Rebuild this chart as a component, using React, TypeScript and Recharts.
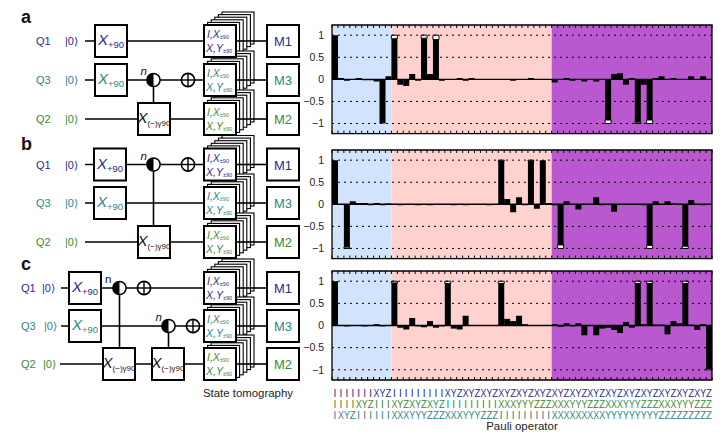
import { BarChart, Bar, XAxis, YAxis, ReferenceArea, ReferenceLine } from 'recharts';

// the three qubit rows under the bottom panel, one character per operator
const row1 = 'IIIIIIIXYZ' + 'IIIIIIIII' + 'XYZXYZXYZ' + 'XYZXYZXYZ' + 'XYZXYZXYZXYZXYZXYZXYZXYZXYZ';
const row2 = 'IIIIXYZIII' + 'XYZXYZXYZ' + 'IIIIIIIII' + 'XXXYYYZZZ' + 'XXXYYYZZZXXXYYYZZZXXXYYYZZZ';
const row3 = 'IXYZIIIIII' + 'XXXYYYZZZ' + 'XXXYYYZZZ' + 'IIIIIIIII' + 'XXXXXXXXXYYYYYYYYYZZZZZZZZZ';

const measuredA = [
  1, 0.03, -0.03, 0, 0.03, -0.02, -0.02, -0.05, -1, 0.07,
  0.92, -0.12, -0.15, 0.12, -0.03, 0.93, 0.12, 0.9, -0.03, 0, 0, 0.03, -0.03, 0.03, 0, 0, 0,
  0, 0, 0, -0.03, 0, 0, 0.03, 0, 0, 0,
  -0.07, 0, 0.03, -0.03, 0, -0.05, 0, -0.05, 0, -0.92, 0.12, 0.14, -0.12, 0.03, -0.97, -0.12,
  -0.92, 0.03, 0.07, 0, 0.03, 0, 0, 0.07, 0, 0.07, 0,
];
const idealA: Record<number, number> = { 0: 1, 8: -1, 10: 1, 15: 1, 17: 1, 46: -1, 51: -1, 53: -1 };

const measuredB = [
  1, 0, -0.97, 0.07, 0.03, 0.03, -0.02, 0.03, -0.02, 0.02,
  0, -0.02, 0, 0, -0.02, 0, -0.02, 0, 0, 0, -0.02, 0, -0.02, 0, 0, 0, -0.02,
  0, 0.98, 0.12, -0.18, 0.16, -0.02, 0.98, -0.1, 1, 0.03,
  -0.02, -0.92, 0.07, 0, -0.12, -0.01, 0, 0.16, -0.02, 0, -0.17, 0, 0, 0, 0, -0.02,
  -0.93, 0.07, 0, 0.07, 0.02, 0, -0.95, 0.1, 0, -0.02, 0,
];
const idealB: Record<number, number> = { 0: 1, 2: -1, 28: 1, 33: 1, 35: 1, 38: -1, 53: -1, 59: -1 };

const measuredC = [
  1, 0, -0.02, 0, 0, -0.02, 0, 0.03, -0.02, 0,
  0.96, -0.05, -0.09, 0.17, -0.02, -0.04, 0.1, -0.05, -0.02, 0.95, -0.07, -0.09, 0.22, 0, -0.01, -0.01, -0.01,
  -0.01, 0.95, 0.15, 0.1, 0.22, 0.03, -0.01, -0.01, -0.01, -0.01,
  0.03, -0.03, 0.05, -0.02, 0.05, -0.22, -0.01, -0.22, -0.07, -0.05, -0.1, -0.17, 0.08, -0.05, 0.95, 0.03,
  0.95, 0.02, 0.02, -0.2, 0.1, 0.05, 0.95, 0.02, -0.1, 0.03, -0.97,
];
const idealC: Record<number, number> = { 0: 1, 10: 1, 19: 1, 28: 1, 51: 1, 53: 1, 59: 1, 63: -1 };

const yTicks = [-1, -0.5, 0, 0.5, 1];
const boundaries = Array.from({ length: 65 }, (_, i) => i);
const regions = [
  { from: 0, to: 10, fill: '#D2E3FE' },
  { from: 10, to: 37, fill: '#FFD2D0' },
  { from: 37, to: 64, fill: '#B958CF' },
];

const NAVY = '#2B2C86';
const TEAL = '#2F8585';
const GREEN = '#3C8A35';
const FONT = '"Liberation Sans", Arial, sans-serif';

const buildData = (measured: number[], ideal: Record<number, number>) =>
  measured.map((value, i) => ({
    op: row1[i] + row2[i] + row3[i],
    edge: i,
    measured: value,
    gap: ideal[i] ? ideal[i] - value : 0,
  }));

// X, Y and Z are squeezed into one bar width, I keeps its own width
function OperatorChar({ x, y, c, fill }: any) {
  const squeeze = c === 'I' ? {} : { textLength: 5.9, lengthAdjust: 'spacingAndGlyphs' };
  return <text x={x} y={y} fill={fill} {...squeeze}>{c}</text>;
}

function OperatorTick({ x, y, payload }: any) {
  const chars = String(payload.value);
  return (
    <g fontFamily={FONT} fontSize={10} textAnchor="middle">
      <OperatorChar x={x} y={y + 9} c={chars[0]} fill={NAVY} />
      <OperatorChar x={x} y={y + 20} c={chars[1]} fill={GREEN} />
      <OperatorChar x={x} y={y + 31} c={chars[2]} fill={TEAL} />
    </g>
  );
}

const NoLabel = () => <g />;

function PauliPanel({ top, plotHeight, data, labelled }: any) {
  const axisHeight = labelled ? 50 : 0;
  return (
    <div style={{ position: 'absolute', left: 290, top: top - 5 }}>
      <BarChart
        width={430}
        height={plotHeight + 10 + axisHeight}
        data={data}
        margin={{ top: 5, right: 8, left: 0, bottom: 5 }}
        barCategoryGap={0}
      >
        <XAxis
          xAxisId="cat"
          dataKey="op"
          hide={!labelled}
          height={axisHeight}
          interval={0}
          tick={<OperatorTick />}
          tickLine={false}
          axisLine={false}
          label={{ value: 'Pauli operator', position: 'insideBottom', offset: 0, fontFamily: FONT, fontSize: 11.5, fill: '#222' }}
        />
        <XAxis xAxisId="top" dataKey="edge" type="number" orientation="top" mirror height={1} domain={[0, 64]} allowDataOverflow ticks={boundaries} interval={0} tick={<NoLabel />} tickSize={3} tickLine={{ stroke: '#000' }} axisLine={false} />
        <XAxis xAxisId="bot" dataKey="edge" type="number" orientation="bottom" mirror height={1} domain={[0, 64]} allowDataOverflow ticks={boundaries} interval={0} tick={<NoLabel />} tickSize={3} tickLine={{ stroke: '#000' }} axisLine={false} />
        <YAxis
          type="number"
          width={42}
          domain={[-1.23, 1.23]}
          allowDataOverflow
          ticks={yTicks}
          interval={0}
          axisLine={false}
          tickLine={false}
          tickFormatter={(v: number) => String(v).replace('-', '\u2212')}
          tick={{ fontFamily: FONT, fontSize: 10.5, fill: '#222' }}
        />
        {regions.map((r) => (
          <ReferenceArea key={r.from} xAxisId="bot" x1={r.from} x2={r.to} y1={-1.23} y2={1.23} fill={r.fill} fillOpacity={1} stroke="none" />
        ))}
        {[-1, -0.5, 0.5, 1].map((v) => (
          <ReferenceLine key={v} xAxisId="bot" y={v} stroke="#000" strokeWidth={1} strokeDasharray="2 4" />
        ))}
        <Bar xAxisId="cat" stackId="q" dataKey="measured" fill="#000" isAnimationActive={false} />
        <Bar xAxisId="cat" stackId="q" dataKey="gap" fill="#fff" stroke="#000" strokeWidth={1} isAnimationActive={false} />
        <ReferenceLine xAxisId="bot" y={0} stroke="#000" strokeWidth={1.4} />
        <ReferenceArea xAxisId="bot" x1={0} x2={64} y1={-1.23} y2={1.23} fill="none" stroke="#000" strokeWidth={1.3} />
      </BarChart>
    </div>
  );
}

// circuit schematic on the left
const wire = { stroke: '#000', strokeWidth: 1.6, fill: 'none' };

function Wire({ x1, y1, x2, y2 }: any) {
  return <line x1={x1} y1={y1} x2={x2} y2={y2} {...wire} />;
}

function Gate({ x, y, sub, color, subSize = 9.5 }: any) {
  return (
    <g fontFamily={FONT}>
      <rect x={x} y={y - 16} width={32} height={32} fill="#fff" stroke="#000" strokeWidth={2} />
      <text x={x + 16} y={y + 4} textAnchor="middle" fill={color}>
        <tspan fontStyle="italic" fontSize={15}>X</tspan>
        <tspan fontSize={subSize} dy={3}>{sub}</tspan>
      </text>
    </g>
  );
}

function StackBack({ y }: any) {
  return (
    <g>
      {[5, 4, 3, 2, 1].map((k) => (
        <rect key={k} x={204 + k * 3.6} y={y - 16 - k * 2.6} width={32} height={32} fill="#fff" stroke="#000" strokeWidth={1.1} />
      ))}
    </g>
  );
}

function StackFront({ y, color }: any) {
  return (
    <g fontFamily={FONT}>
      <rect x={204} y={y - 16} width={32} height={32} fill="#fff" stroke="#000" strokeWidth={2} />
      <text x={207} y={y - 3} fill={color} fontStyle="italic" fontSize={10.5}>
        I,X<tspan fontSize={5.5} dy={1} fontStyle="normal">±90</tspan>
      </text>
      <text x={206} y={y + 11} fill={color} fontStyle="italic" fontSize={10.5}>
        X,Y<tspan fontSize={5.5} dy={1} fontStyle="normal">±90</tspan>
      </text>
    </g>
  );
}

function Measure({ y, label, color }: any) {
  return (
    <g fontFamily={FONT}>
      <line x1={236} y1={y} x2={267} y2={y} {...wire} />
      <rect x={267} y={y - 16} width={32} height={32} fill="#fff" stroke="#000" strokeWidth={2} />
      <text x={283} y={y + 5} textAnchor="middle" fontSize={13} fill={color}>{label}</text>
    </g>
  );
}

function Control({ x, y, n, nItalic = true, nx }: any) {
  return (
    <g>
      <circle cx={x} cy={y} r={6.6} fill="#fff" stroke="#000" strokeWidth={1.5} />
      <path d={`M ${x} ${y - 6.6} A 6.6 6.6 0 0 0 ${x} ${y + 6.6} Z`} fill="#000" />
      <text x={nx ?? x - 13} y={y - 5} fontFamily={FONT} fontSize={11.5} fontStyle={nItalic ? 'italic' : 'normal'} fill="#111">{n}</text>
    </g>
  );
}

function Target({ x, y }: any) {
  return (
    <g>
      <circle cx={x} cy={y} r={6.6} fill="#fff" stroke="#000" strokeWidth={1.6} />
      <line x1={x - 6.6} y1={y} x2={x + 6.6} y2={y} stroke="#000" strokeWidth={1.4} />
      <line x1={x} y1={y - 6.6} x2={x} y2={y + 6.6} stroke="#000" strokeWidth={1.4} />
    </g>
  );
}

function RowLabel({ y, q, color, qx = 36, kx = 65 }: any) {
  return (
    <g fontFamily={FONT} fontSize={11} fill={color}>
      <text x={qx} y={y + 4}>{q}</text>
      <text x={kx} y={y + 4}>|0⟩</text>
    </g>
  );
}

function Letter({ y, children }: any) {
  return <text x={21} y={y} fontFamily={FONT} fontWeight="bold" fontSize={18} fill="#111">{children}</text>;
}

// the stacks and read-out boxes are the same in every panel
function Tomography({ rows }: any) {
  const colors = [NAVY, TEAL, GREEN];
  const labels = ['M1', 'M3', 'M2'];
  return (
    <g>
      {rows.map((y: number) => <StackBack key={y} y={y} />)}
      {rows.map((y: number, i: number) => <StackFront key={y} y={y} color={colors[i]} />)}
      {rows.map((y: number, i: number) => <Measure key={y} y={y} label={labels[i]} color={colors[i]} />)}
    </g>
  );
}

function Circuit() {
  const [a1, a3, a2] = [41, 80, 119];
  const [b1, b3, b2] = [164.5, 203, 242];
  const [c1, c3, c2] = [288, 326, 364];
  return (
    <svg width={723} height={437} style={{ position: 'absolute', left: 0, top: 0 }}>
      {/* panel a */}
      <Letter y={23}>a</Letter>
      <RowLabel y={a1} q="Q1" color={NAVY} />
      <RowLabel y={a3} q="Q3" color={TEAL} />
      <RowLabel y={a2} q="Q2" color={GREEN} />
      <Wire x1={85} y1={a1} x2={204} y2={a1} />
      <Wire x1={85} y1={a3} x2={204} y2={a3} />
      <Wire x1={85} y1={a2} x2={204} y2={a2} />
      <Wire x1={153.5} y1={a3} x2={153.5} y2={a2} />
      <Gate x={95} y={a1} sub="+90" color={NAVY} />
      <Gate x={95} y={a3} sub="+90" color={TEAL} />
      <Gate x={138} y={a2} sub="(−)&#947;90" color="#111" subSize={8} />
      <Control x={153.5} y={a3} n="n" />
      <Target x={188} y={a3} />
      <Tomography rows={[a1, a3, a2]} />

      {/* panel b */}
      <Letter y={150}>b</Letter>
      <RowLabel y={b1} q="Q1" color={NAVY} />
      <RowLabel y={b3} q="Q3" color={TEAL} />
      <RowLabel y={b2} q="Q2" color={GREEN} />
      <Wire x1={85} y1={b1} x2={204} y2={b1} />
      <Wire x1={85} y1={b3} x2={204} y2={b3} />
      <Wire x1={85} y1={b2} x2={204} y2={b2} />
      <Wire x1={153.5} y1={b1} x2={153.5} y2={b2} />
      <Gate x={94} y={b1} sub="+90" color={NAVY} />
      <Gate x={94} y={b3} sub="+90" color={TEAL} />
      <Gate x={138} y={b2} sub="(−)&#947;90" color="#111" subSize={8} />
      <Control x={153.5} y={b1} n="n" />
      <Target x={188} y={b1} />
      <Tomography rows={[b1, b3, b2]} />

      {/* panel c */}
      <Letter y={270}>c</Letter>
      <RowLabel y={c1} q="Q1" color={NAVY} qx={21} kx={42} />
      <RowLabel y={c3} q="Q3" color={TEAL} qx={21} kx={44} />
      <RowLabel y={c2} q="Q2" color={GREEN} qx={21} kx={43} />
      <Wire x1={61} y1={c1} x2={204} y2={c1} />
      <Wire x1={61} y1={c3} x2={204} y2={c3} />
      <Wire x1={60} y1={c2} x2={204} y2={c2} />
      <Wire x1={119.5} y1={c1} x2={119.5} y2={c2} />
      <Wire x1={168.5} y1={c3} x2={168.5} y2={c2} />
      <Gate x={69} y={c1} sub="+90" color={NAVY} />
      <Gate x={69} y={c3} sub="+90" color={TEAL} />
      <Gate x={103} y={c2} sub="(−)&#947;90" color="#111" subSize={8} />
      <Gate x={152} y={c2} sub="(−)&#947;90" color="#111" subSize={8} />
      <Control x={119.5} y={c1} n="n" nItalic={false} nx={105} />
      <Target x={144} y={c1} />
      <Control x={168.5} y={c3} n="n" />
      <Target x={193} y={c3} />
      <Tomography rows={[c1, c3, c2]} />
      <text x={203} y={397} fontFamily={FONT} fontSize={11.4} fill="#222">State tomography</text>
    </svg>
  );
}

export default function App() {
  return (
    <div style={{ position: 'absolute', left: 0, top: 0, width: 723, height: 437, overflow: 'hidden', background: '#fff' }}>
      <Circuit />
      <PauliPanel top={25.3} plotHeight={108.7} data={buildData(measuredA, idealA)} />
      <PauliPanel top={149.7} plotHeight={108.6} data={buildData(measuredB, idealB)} />
      <PauliPanel top={271} plotHeight={109} data={buildData(measuredC, idealC)} labelled />
    </div>
  );
}
